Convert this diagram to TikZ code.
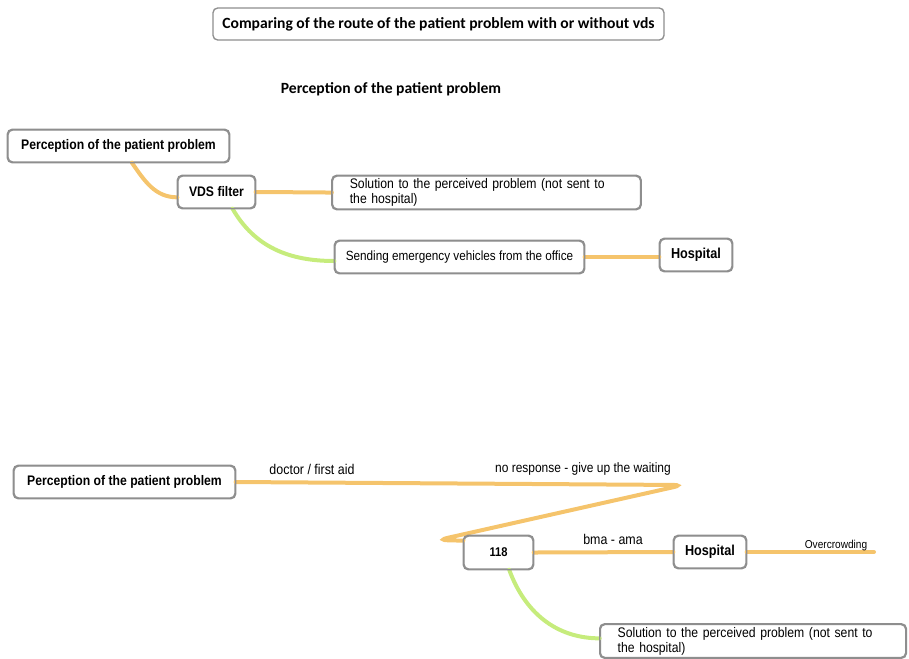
\documentclass[tikz,border=0pt]{standalone}
\usepackage{fontspec}
\setmainfont{Carlito}
\newfontfamily\boxfont[FakeStretch=0.88]{Liberation Sans}
\usepackage{tikz}
\usetikzlibrary{positioning}
\definecolor{branchorange}{HTML}{F5C46C}
\definecolor{branchgreen}{HTML}{C6EC7C}
\definecolor{boxgray}{HTML}{8E8E8E}
\tikzset{
    mapbox/.style={draw=boxgray, fill=white, rounded corners=3.5pt, line width=1pt, inner sep=0pt, font=\boxfont\bfseries\fontsize{10.4}{12}\selectfont},
    solbox/.style={mapbox, align=left, text width=205pt, inner xsep=13pt, font=\boxfont\fontsize{10.4}{11.3}\selectfont},
    orangebranch/.style={draw=branchorange, line width=3pt, line cap=round},
    greenbranch/.style={draw=branchgreen, line width=3pt, line cap=round},
    linelabel/.style={inner sep=1pt, font=\boxfont\fontsize{10.6}{12}\selectfont},
}
\begin{document}
\begin{tikzpicture}[x=0.75pt, y=-0.75pt]
    \useasboundingbox (0,0) rectangle (909,658);

    % heading
    \node[mapbox, minimum width=338.25pt, minimum height=24pt, font=\bfseries\fontsize{11.7}{13}\selectfont] (title) at (438.5,24)
        {Comparing of the route of the patient problem with or without vds};
    \node[font=\bfseries\fontsize{11.7}{13}\selectfont] (subtitle) at (391,89) {Perception of the patient problem};

    % route with vds
    \node[mapbox, minimum width=165.75pt, minimum height=24pt] (percA) at (118.5,146) {Perception of the patient problem};
    \node[mapbox, minimum width=57.75pt, minimum height=24pt] (vds) at (216.5,192) {VDS filter};
    \node[solbox, minimum height=24.75pt] (solA) at (486.5,192.5)
        {Solution to the perceived problem (not sent to\\the hospital)};
    \node[mapbox, minimum width=186.75pt, minimum height=24pt, font=\boxfont\fontsize{10}{11}\selectfont] (send) at (459.5,257)
        {Sending emergency vehicles from the office};
    \node[mapbox, minimum width=54pt, minimum height=24pt, font=\boxfont\bfseries\fontsize{10.8}{12}\selectfont] (hospA) at (696,255) {Hospital};

    % route without vds
    \node[mapbox, minimum width=165.75pt, minimum height=24pt] (percB) at (124.5,482) {Perception of the patient problem};
    \node[mapbox, minimum width=51.75pt, minimum height=24.75pt, font=\boxfont\bfseries\fontsize{9.5}{11}\selectfont] (call) at (498.5,552.5) {118};
    \node[mapbox, minimum width=54pt, minimum height=24pt, font=\boxfont\bfseries\fontsize{10.8}{12}\selectfont] (hospB) at (710,552) {Hospital};
    \node[solbox, text width=203pt, minimum height=24.75pt] (solB) at (753,641)
        {Solution to the perceived problem (not sent to\\the hospital)};

    \coordinate (turnR) at (683,485);
    \coordinate (turnL) at (438,540);
    \coordinate (crowd) at (874,552);

    % branches
    \draw[orangebranch] ([xshift=10pt]percA.south) to[out=-55, in=180] ([yshift=-4pt]vds.west);
    \draw[orangebranch] (vds.east) to[out=0, in=180] (solA.west);
    \draw[greenbranch] ([xshift=12pt]vds.south) to[out=-60, in=180] ([yshift=-3pt]send.west);
    \draw[orangebranch] (send.east) -- (hospA.west |- send.east);

    \draw[orangebranch, rounded corners=7pt] (percB.east) -- (turnR) -- (turnL) -- ([yshift=-4pt]call.north west);
    \draw[orangebranch] (call.east) -- (hospB.west);
    \draw[orangebranch] (hospB.east) -- (crowd);
    \draw[greenbranch] ([xshift=8pt]call.south) to[out=-70, in=180] ([yshift=2pt]solB.west);

    % redraw box outlines above the branches
    \foreach \n in {percA, vds, solA, send, hospA, percB, call, hospB, solB}
        \draw[draw=boxgray, line width=1pt, rounded corners=3.5pt] (\n.south west) rectangle (\n.north east);

    % branch labels
    \node[linelabel] (doctor) at (312,469) {doctor / first aid};
    \node[linelabel, font=\boxfont\fontsize{10.2}{12}\selectfont] (noresp) at (583,469) {no response - give up the waiting};
    \node[linelabel] (bma) at (613,539) {bma - ama};
    \node[linelabel, font=\boxfont\fontsize{8.6}{10}\selectfont] (overc) at (836,546) {Overcrowding};
\end{tikzpicture}
\end{document}
